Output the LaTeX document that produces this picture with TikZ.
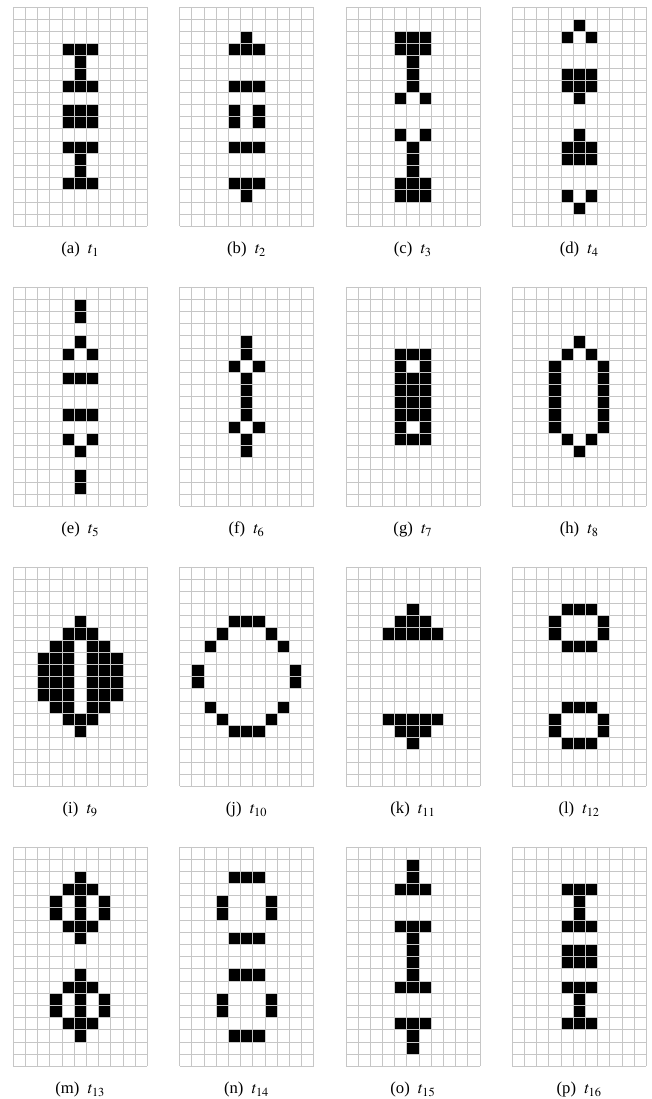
\documentclass[tikz,border=0pt]{standalone}
\usepackage{mathptmx}
\usepackage{fontspec}
\setmainfont{Liberation Serif}
\usepackage{tikz}

\tikzset{
  gridline/.style={gray!45,line width=0.5pt},
  cellfill/.style={fill=black},
  caption/.style={anchor=base,font=\normalsize}
}

\begin{document}
\begin{tikzpicture}
  \def\cs{0.257}
  \def\dx{3.507}
  \def\dy{5.904}
  \useasboundingbox (0,0) rectangle (13.728,-23.175);
  % ---------------- 16 templates, 11 x 18 cells each ----------------
  \foreach \lab/\n/\cells [count=\k from 0] in {
    a/1/{3/{4,5,6},4/{5},5/{5},6/{4,5,6},8/{4,5,6},9/{4,5,6},11/{4,5,6},12/{5},13/{5},14/{4,5,6}},
    b/2/{2/{5},3/{4,5,6},6/{4,5,6},8/{4,6},9/{4,6},11/{4,5,6},14/{4,5,6},15/{5}},
    c/3/{2/{4,5,6},3/{4,5,6},4/{5},5/{5},6/{5},7/{4,6},10/{4,6},11/{5},12/{5},13/{5},14/{4,5,6},15/{4,5,6}},
    d/4/{1/{5},2/{4,6},5/{4,5,6},6/{4,5,6},7/{5},10/{5},11/{4,5,6},12/{4,5,6},15/{4,6},16/{5}},
    e/5/{1/{5},2/{5},4/{5},5/{4,6},7/{4,5,6},10/{4,5,6},12/{4,6},13/{5},15/{5},16/{5}},
    f/6/{4/{5},5/{5},6/{4,6},7/{5},8/{5},9/{5},10/{5},11/{4,6},12/{5},13/{5}},
    g/7/{5/{4,5,6},6/{4,6},7/{4,5,6},8/{4,5,6},9/{4,5,6},10/{4,5,6},11/{4,6},12/{4,5,6}},
    h/8/{4/{5},5/{4,6},6/{3,7},7/{3,7},8/{3,7},9/{3,7},10/{3,7},11/{3,7},12/{4,6},13/{5}},
    i/9/{4/{5},5/{4,5,6},6/{3,4,6,7},7/{2,3,4,6,7,8},8/{2,3,4,6,7,8},9/{2,3,4,6,7,8},10/{2,3,4,6,7,8},11/{3,4,6,7},12/{4,5,6},13/{5}},
    j/10/{4/{4,5,6},5/{3,7},6/{2,8},8/{1,9},9/{1,9},11/{2,8},12/{3,7},13/{4,5,6}},
    k/11/{3/{5},4/{4,5,6},5/{3,4,5,6,7},12/{3,4,5,6,7},13/{4,5,6},14/{5}},
    l/12/{3/{4,5,6},4/{3,7},5/{3,7},6/{4,5,6},11/{4,5,6},12/{3,7},13/{3,7},14/{4,5,6}},
    m/13/{2/{5},3/{4,5,6},4/{3,5,7},5/{3,5,7},6/{4,5,6},7/{5},10/{5},11/{4,5,6},12/{3,5,7},13/{3,5,7},14/{4,5,6},15/{5}},
    n/14/{2/{4,5,6},4/{3,7},5/{3,7},7/{4,5,6},10/{4,5,6},12/{3,7},13/{3,7},15/{4,5,6}},
    o/15/{1/{5},2/{5},3/{4,5,6},6/{4,5,6},7/{5},8/{5},9/{5},10/{5},11/{4,5,6},14/{4,5,6},15/{5},16/{5}},
    p/16/{3/{4,5,6},4/{5},5/{5},6/{4,5,6},8/{4,5,6},9/{4,5,6},11/{4,5,6},12/{5},13/{5},14/{4,5,6}}}{
    \pgfmathtruncatemacro{\pr}{div(\k,4)}
    \pgfmathtruncatemacro{\pc}{mod(\k,4)}
    \begin{scope}[shift={(0.2805+\pc*\dx,-0.1476-\pr*\dy)}]
      \foreach \r/\row in \cells {
        \foreach \c in \row {
          \fill[cellfill] (\c*\cs,-\r*\cs) rectangle ++(\cs,-\cs);
        }
      }
      \foreach \i in {0,...,11}
        \draw[gridline] (\i*\cs,0) -- ++(0,-18*\cs);
      \foreach \j in {0,...,18}
        \draw[gridline] (0,-\j*\cs) -- ++(11*\cs,0);
      \node[caption] (cap\lab) at (5.5*\cs,-18*\cs-0.578) {(\lab)\hspace{0.5em}$t_{\n}$};
    \end{scope}
  }
\end{tikzpicture}
\end{document}
